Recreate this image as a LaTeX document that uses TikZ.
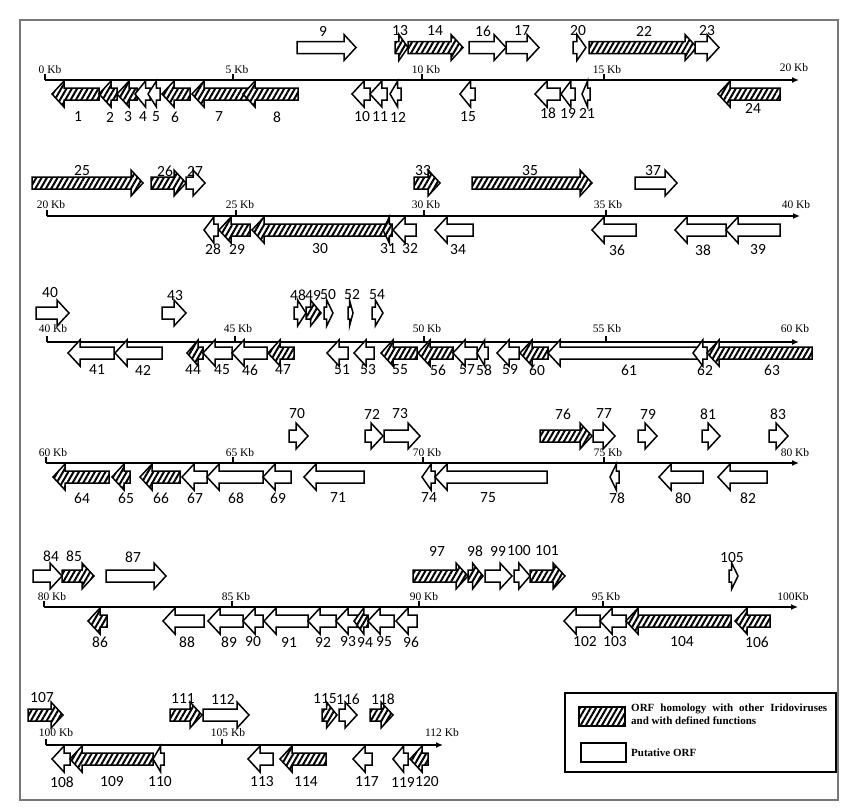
\documentclass[tikz,border=0pt]{standalone}
\usepackage{fontspec}
\setmainfont{Liberation Serif}
\newfontfamily\lblfont{Carlito}
\definecolor{framegray}{RGB}{120,120,120}
\usepackage{tikz}
\usetikzlibrary{arrows.meta,patterns.meta}
\tikzstyle{hat} = [draw, line width=1.5pt, line join=miter, preaction={fill=white}, pattern={Lines[angle=60,distance=4.6pt,line width=2pt]}]
\tikzstyle{put} = [draw, line width=1.5pt, line join=miter, fill=white]
\tikzstyle{axis} = [draw, line width=1.3pt, -{Latex[length=7pt,width=6pt]}]
\tikzstyle{lbl} = [font=\lblfont\fontsize{15.5}{15.5}\selectfont, inner sep=0pt]
\tikzstyle{kb} = [font=\fontsize{11.5}{11.5}\selectfont, inner sep=0pt]
\newcommand{\orf}[7]{%
  \pgfmathsetmacro{\orfh}{min(12,0.7*abs(#4-#3))}%
  \pgfmathsetmacro{\orfb}{#4>#3 ? #4-\orfh : #4+\orfh}%
  \draw[#2] (#3,#5-6) -- (\orfb,#5-6) -- (\orfb,#5-13) -- (#4,#5) -- (\orfb,#5+13) -- (\orfb,#5+6) -- (#3,#5+6) -- cycle;
  \node[lbl] (n#1) at (#6,#7) {#1};}
\newcommand{\kbtick}[3]{%
  \draw[line width=1.3pt] (#1,#2) -- (#1,#2-6);}

\begin{document}
\begin{tikzpicture}[x=1pt,y=-1pt]
  \useasboundingbox (0,0) rectangle (855,811);
  \draw[framegray,line width=1.2pt] (20,20) rectangle (838,800);

  \coordinate (a1) at (45,80);
  \coordinate (b1) at (799,80);
  \draw[axis] (a1) -- (b1);
  \foreach \t in {45,233,422,604} \kbtick{\t}{80}{};
  \node[kb] (k0) at (50,70) {0 Kb};
  \node[kb] (k5) at (237,70) {5 Kb};
  \node[kb] (k10) at (426,70) {10 Kb};
  \node[kb] (k15) at (607,70) {15 Kb};
  \node[kb] (k20) at (794,68) {20 Kb};
  \orf{1}{hat}{99}{52}{94}{78}{117}
  \orf{2}{hat}{117}{99}{94}{110}{117}
  \orf{3}{hat}{137}{117}{94}{128}{117}
  \orf{4}{put}{150}{135}{94}{143}{117}
  \orf{5}{put}{160}{148}{94}{156}{117}
  \orf{6}{hat}{190}{162}{94}{175}{117}
  \orf{7}{hat}{247}{192}{94}{219}{117}
  \orf{8}{hat}{298}{243}{94}{277}{117}
  \orf{9}{put}{297}{356}{47.5}{323}{31}
  \orf{10}{put}{370}{352}{94}{362}{117}
  \orf{11}{put}{387}{370}{94}{380}{117}
  \orf{12}{put}{401}{390}{94}{398}{117}
  \orf{13}{hat}{395}{408}{47.5}{400}{31}
  \orf{14}{hat}{408}{463}{47.5}{435}{31}
  \orf{15}{put}{475}{460}{94}{468}{117}
  \orf{16}{put}{469}{506}{47.5}{483}{31}
  \orf{17}{put}{506}{539}{47.5}{522}{31}
  \orf{18}{put}{560}{535}{94}{548}{113}
  \orf{19}{put}{575}{561}{94}{568}{113}
  \orf{20}{put}{573}{586}{47.5}{578}{31}
  \orf{21}{put}{590}{582}{94}{587}{113}
  \orf{22}{hat}{589}{697}{47.5}{644}{31}
  \orf{23}{put}{695}{719}{47.5}{707}{31}
  \orf{24}{hat}{780}{718}{94}{753}{108}

  \coordinate (a2) at (47,216);
  \coordinate (b2) at (800,216);
  \draw[axis] (a2) -- (b2);
  \foreach \t in {47,236,424,606} \kbtick{\t}{216}{};
  \node[kb] (k20b) at (51,205) {20 Kb};
  \node[kb] (k25) at (240,205) {25 Kb};
  \node[kb] (k30) at (426,205) {30 Kb};
  \node[kb] (k35) at (608,205) {35 Kb};
  \node[kb] (k40) at (796,205) {40 Kb};
  \orf{25}{hat}{32}{143}{183}{82}{171}
  \orf{26}{hat}{151}{186}{183}{165}{171}
  \orf{27}{put}{186}{205}{183}{195}{171}
  \orf{28}{put}{218}{204}{230}{213}{249}
  \orf{29}{hat}{250}{219}{230}{237}{249}
  \orf{30}{hat}{390}{252}{230}{320}{249}
  \orf{31}{hat}{392}{383}{230}{388}{249}
  \orf{32}{put}{416}{393}{230}{410}{249}
  \orf{33}{hat}{414}{440}{183}{423}{171}
  \orf{34}{put}{473}{435}{230}{458}{250}
  \orf{35}{hat}{472}{592}{183}{530}{171}
  \orf{36}{put}{636}{592}{230}{617}{250}
  \orf{37}{put}{635}{677}{183}{653}{171}
  \orf{38}{put}{726}{675}{230}{703}{250}
  \orf{39}{put}{780}{726}{230}{758}{250}

  \coordinate (a3) at (47,342);
  \coordinate (b3) at (799,342);
  \draw[axis] (a3) -- (b3);
  \foreach \t in {47,235,424,606} \kbtick{\t}{342}{};
  \node[kb] (k40b) at (53,329) {40 Kb};
  \node[kb] (k45) at (238,329) {45 Kb};
  \node[kb] (k50) at (427,329) {50 Kb};
  \node[kb] (k55) at (607,329) {55 Kb};
  \node[kb] (k60) at (795,329) {60 Kb};
  \orf{40}{put}{36}{69}{313}{50}{293}
  \orf{41}{put}{114}{68}{353}{97}{370}
  \orf{42}{put}{162}{115}{353}{143}{370}
  \orf{43}{put}{162}{186}{313}{175}{296}
  \orf{44}{hat}{203}{187}{353}{193}{370}
  \orf{45}{put}{232}{203}{353}{222}{370}
  \orf{46}{put}{267}{232}{353}{250}{370}
  \orf{47}{hat}{294}{268}{353}{283}{370}
  \orf{48}{put}{294}{306}{313}{298}{295}
  \orf{49}{hat}{306}{321}{313}{313}{295}
  \orf{50}{put}{324}{333}{313}{328}{295}
  \orf{51}{put}{348}{327}{353}{342}{370}
  \orf{52}{put}{348}{353}{313}{352}{295}
  \orf{53}{put}{374}{354}{353}{368}{370}
  \orf{54}{put}{372}{383}{313}{377}{295}
  \orf{55}{hat}{417}{381}{353}{400}{370}
  \orf{56}{hat}{453}{418}{353}{438}{370}
  \orf{57}{put}{477}{453}{353}{467}{370}
  \orf{58}{put}{488}{477}{353}{484}{370}
  \orf{59}{put}{519}{497}{353}{510}{370}
  \orf{60}{hat}{548}{520}{353}{537}{370}
  \orf{61}{put}{699}{548}{353}{629}{370}
  \orf{62}{put}{707}{693}{353}{705}{370}
  \orf{63}{hat}{812}{707}{353}{772}{370}

  \coordinate (a4) at (46,463);
  \coordinate (b4) at (799,463);
  \draw[axis] (a4) -- (b4);
  \foreach \t in {46,233,423,604} \kbtick{\t}{463}{};
  \node[kb] (k60b) at (53,453) {60 Kb};
  \node[kb] (k65) at (240,453) {65 Kb};
  \node[kb] (k70) at (427,453) {70 Kb};
  \node[kb] (k75) at (608,453) {75 Kb};
  \node[kb] (k80) at (795,453) {80 Kb};
  \orf{64}{hat}{109}{53}{477}{82}{498}
  \orf{65}{hat}{130}{112}{477}{126}{498}
  \orf{66}{hat}{180}{140}{477}{161}{498}
  \orf{67}{put}{207}{182}{477}{195}{498}
  \orf{68}{put}{263}{207}{477}{236}{498}
  \orf{69}{put}{291}{263}{477}{278}{498}
  \orf{70}{put}{289}{308}{436}{297}{414}
  \orf{71}{put}{364}{304}{477}{338}{498}
  \orf{72}{put}{365}{383}{436}{372}{414}
  \orf{73}{put}{384}{420}{436}{400}{414}
  \orf{74}{put}{435}{422}{477}{429}{498}
  \orf{75}{put}{547}{435}{477}{488}{498}
  \orf{76}{hat}{540}{592}{436}{563}{414}
  \orf{77}{put}{593}{615}{436}{604}{414}
  \orf{78}{put}{619}{610}{477}{617}{498}
  \orf{79}{put}{638}{657}{436}{648}{414}
  \orf{80}{put}{703}{659}{477}{683}{498}
  \orf{81}{put}{702}{720}{436}{708}{414}
  \orf{82}{put}{767}{718}{477}{748}{498}
  \orf{83}{put}{769}{788}{436}{778}{414}

  \coordinate (a5) at (44,607);
  \coordinate (b5) at (798,607);
  \draw[axis] (a5) -- (b5);
  \foreach \t in {44,232,419,603} \kbtick{\t}{607}{};
  \node[kb] (k80b) at (52,597) {80 Kb};
  \node[kb] (k85) at (236,597) {85 Kb};
  \node[kb] (k90) at (424,597) {90 Kb};
  \node[kb] (k95) at (606,597) {95 Kb};
  \node[kb] (k100) at (793,597) {100Kb};
  \orf{84}{put}{33}{62}{576}{51}{556}
  \orf{85}{hat}{62}{94}{576}{74}{556}
  \orf{86}{hat}{107}{88}{621}{100}{642}
  \orf{87}{put}{106}{166}{576}{133}{557}
  \orf{88}{put}{204}{163}{621}{187}{642}
  \orf{89}{put}{243}{208}{621}{229}{642}
  \orf{90}{put}{263}{243}{621}{253}{642}
  \orf{91}{put}{308}{264}{621}{289}{642}
  \orf{92}{put}{336}{308}{621}{323}{642}
  \orf{93}{put}{357}{336}{621}{348}{642}
  \orf{94}{hat}{368}{354}{621}{365}{642}
  \orf{95}{put}{394}{368}{621}{384}{642}
  \orf{96}{put}{417}{396}{621}{411}{642}
  \orf{97}{hat}{413}{468}{576}{437}{551}
  \orf{98}{hat}{468}{483}{576}{475}{551}
  \orf{99}{put}{485}{512}{576}{498}{551}
  \orf{100}{put}{514}{530}{576}{519}{551}
  \orf{101}{hat}{530}{565}{576}{547}{551}
  \orf{102}{put}{600}{564}{621}{585}{642}
  \orf{103}{put}{626}{600}{621}{615}{642}
  \orf{104}{hat}{731}{626}{621}{682}{642}
  \orf{105}{put}{729}{738}{576}{732}{558}
  \orf{106}{hat}{770}{735}{621}{757}{642}

  \coordinate (a6) at (46,745);
  \coordinate (b6) at (443,745);
  \draw[axis] (a6) -- (b6);
  \foreach \t in {46,222} \kbtick{\t}{745}{};
  \node[kb] (k100b) at (56,733) {100 Kb};
  \node[kb] (k105) at (228,733) {105 Kb};
  \node[kb] (k112) at (442,733) {112 Kb};
  \orf{107}{hat}{28}{63}{715}{42}{698}
  \orf{108}{put}{70}{52}{759}{62}{782}
  \orf{109}{hat}{153}{70}{759}{112}{782}
  \orf{110}{put}{164}{153}{759}{160}{782}
  \orf{111}{hat}{170}{202}{715}{183}{699}
  \orf{112}{put}{203}{249}{715}{223}{699}
  \orf{113}{put}{273}{248}{759}{262}{782}
  \orf{114}{hat}{326}{280}{759}{306}{782}
  \orf{115}{hat}{322}{337}{715}{325}{699}
  \orf{116}{put}{339}{357}{715}{348}{699}
  \orf{117}{put}{372}{353}{759}{367}{782}
  \orf{118}{hat}{370}{393}{715}{383}{699}
  \orf{119}{put}{408}{393}{759}{403}{782}
  \orf{120}{hat}{428}{410}{759}{427}{782}

  \draw[line width=1.5pt] (565,693) rectangle (836,772);
  \draw[hat] (579,707) rectangle (625,726);
  \draw[put] (581,743) rectangle (626,762);
  \node[font=\bfseries\fontsize{11}{13}\selectfont, anchor=west, text width=196pt, align=justify, inner sep=0pt] (lg1) at (631,714.5) {ORF homology with other Iridoviruses and with defined functions};
  \node[font=\bfseries\fontsize{11}{13}\selectfont, anchor=west, inner sep=0pt] (lg2) at (631,753) {Putative ORF};
\end{tikzpicture}
\end{document}
